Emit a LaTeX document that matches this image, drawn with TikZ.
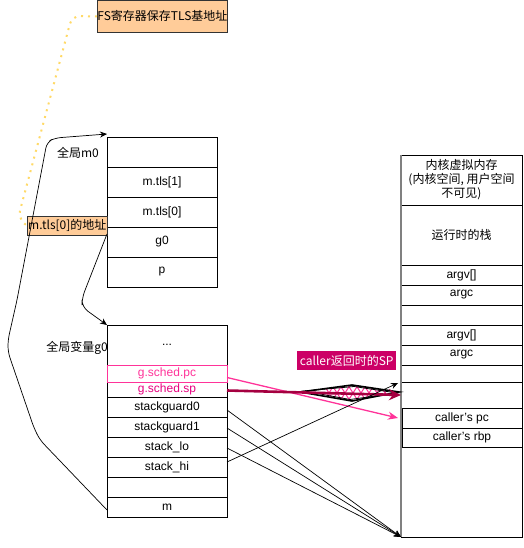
\documentclass[tikz,border=0pt]{standalone}
\usepackage{fontspec}
\setmainfont{Liberation Sans}
\newfontfamily\cjk{Noto Sans CJK SC}
\usetikzlibrary{arrows.meta}
\definecolor{peach}{HTML}{FFCC99}
\definecolor{pinkc}{HTML}{FF3399}
\definecolor{magc}{HTML}{E6007E}
\definecolor{darkmag}{HTML}{A50040}
\definecolor{labmag}{HTML}{CC0066}
\definecolor{dotyel}{HTML}{FFD966}
\begin{document}
\begin{tikzpicture}[x=1pt,y=-1pt,
  font=\fontsize{12}{14}\selectfont,
  cell/.style={draw=black,line width=0.8pt,anchor=north west,inner sep=0pt,outer sep=0pt},
  conn/.style={draw=black,line width=0.7pt},
  tip/.style={-{Stealth[length=7pt,width=6pt]}}]
\useasboundingbox (0,0) rectangle (523,548);
% top stack (m0)
\node[cell,minimum width=110pt,minimum height=30pt] (t0) at (107,137) {};
\node[cell,minimum width=110pt,minimum height=30pt] (t1) at (107,167) {m.tls[1]};
\node[cell,minimum width=110pt,minimum height=30pt] (t2) at (107,197) {m.tls[0]};
\node[cell,minimum width=110pt,minimum height=30pt] (t3) at (107,227) {g0};
\node[cell,minimum width=110pt,minimum height=30pt] (t4) at (107,257) {p};
% second stack (g0)
\node[cell,minimum width=120pt,minimum height=40pt] (s0) at (107,325) {...};
\node[cell,minimum width=120pt,minimum height=15pt,text=magc] (s2) at (107,382) {g.sched.sp};
\node[cell,minimum width=120pt,minimum height=20pt] (s3) at (107,397) {stackguard0};
\node[cell,minimum width=120pt,minimum height=20pt] (s4) at (107,417) {stackguard1};
\node[cell,minimum width=120pt,minimum height=20pt] (s5) at (107,437) {stack\_lo};
\node[cell,minimum width=120pt,minimum height=20pt] (s6) at (107,457) {stack\_hi};
\node[cell,minimum width=120pt,minimum height=20pt] (s7) at (107,477) {};
\node[cell,minimum width=120pt,minimum height=20pt] (s8) at (107,497) {m};
\node[cell,draw=pinkc,minimum width=120pt,minimum height=17pt,text=pinkc] (s1) at (107,365) {g.sched.pc};
% right stack
\node[cell,minimum width=121pt,minimum height=382pt] (r) at (401,155) {};
\node[cell,minimum width=121pt,minimum height=50pt,align=center,font=\cjk\fontsize{12}{14}\selectfont] (r0) at (401,155) {内核虚拟内存\\(内核空间, 用户空间\\不可见)};
\node[cell,minimum width=121pt,minimum height=60pt,font=\cjk\fontsize{12}{14}\selectfont] (r1) at (401,205) {运行时的栈};
\node[cell,minimum width=121pt,minimum height=20pt] (r2) at (401,265) {argv[]};
\node[cell,minimum width=121pt,minimum height=20pt] (r3) at (401,285) {argc};
\node[cell,minimum width=121pt,minimum height=20pt] (r4) at (401,305) {};
\node[cell,minimum width=121pt,minimum height=20pt] (r5) at (401,325) {argv[]};
\node[cell,minimum width=121pt,minimum height=20pt] (r6) at (401,345) {argc};
\node[cell,minimum width=121pt,minimum height=17pt] (r7) at (401,365) {};
\node[cell,minimum width=121pt,minimum height=26pt] (r8) at (401,382) {};
\node[cell,minimum width=120pt,minimum height=20pt] (r9) at (402,408) {caller's pc};
\node[cell,minimum width=120pt,minimum height=19pt] (r10) at (402,428) {caller's rbp};
\draw[gray,line width=2pt] (r.north west) -- (r.south west);
% labels
\node[draw=black!80,fill=peach,line width=0.8pt,minimum width=130pt,minimum height=32pt,inner sep=0pt,anchor=north west,font=\cjk\fontsize{12}{14}\selectfont] (fs) at (97,0) {FS寄存器保存TLS基地址};
\node[draw=black!80,fill=peach,line width=0.6pt,minimum width=80pt,minimum height=19pt,inner sep=0pt,anchor=north west,font=\cjk\fontsize{12}{14}\selectfont] (tl) at (27,216) {m.tls[0]的地址};
\node[font=\cjk\fontsize{12}{14}\selectfont] (lm0) at (78,153) {全局m0};
\node[font=\cjk\fontsize{12}{14}\selectfont] (lg0) at (77,348) {全局变量g0};
\node[fill=labmag,text=white,minimum width=99pt,minimum height=19pt,inner sep=0pt,anchor=north west,font=\cjk\fontsize{12}{14}\selectfont] (sp) at (297,351) {caller返回时的SP};
% dotted yellow
\draw[dotyel,line width=2pt,dash pattern=on 2pt off 5pt,rounded corners=8pt] (fs.west) -- (72,16) -- (18,218) -- (tl.west);
% m -> m0
\draw[conn,tip,rounded corners=6pt] ([yshift=-3pt]s8.west) -- (40,440) -- (34,428) -- (8,352) -- (8,340) -- (17,300) -- (47,142) -- (55,138) -- ([yshift=3pt]t0.north west);
% g0 -> g0 struct
\draw[conn,tip,rounded corners=7pt] ([yshift=8pt]t3.west) -- (82,298) -- (82,307) -- (s0.north west);
% sketchy diamond with pink hatch
\begin{scope}
\clip (300,392) -- (352,385) -- (399,392) -- (352,401) -- cycle;
\foreach \xx in {322,330,...,402} {
  \draw[pinkc,line width=1pt] (\xx,382) -- (\xx+14,404);
  \draw[pinkc,line width=1pt] (\xx+14,382) -- (\xx,404);
}
\end{scope}
\draw[black,line width=1.6pt] (300,392) -- (352,385) -- (399,392) -- (352,401) -- cycle;
\draw[black,line width=0.8pt] (304,391) -- (354,386.5) -- (397,393) -- (350,399.5) -- cycle;
% pc
\draw[pinkc,line width=1.3pt,-{Stealth[length=10pt,width=8pt]}] ([yshift=-4pt]s1.east) -- ([xshift=-4pt]r9.west);
% sp
\draw[darkmag,line width=2.6pt,-{Stealth[length=12pt,width=11pt]}] ([yshift=-1pt]s2.east) -- (r8.west);
% stack fields
\coordinate (rb) at (r.south west);
\draw[conn,tip] ([yshift=-3pt]s3.east) -- (rb);
\draw[conn,tip] ([yshift=-1pt]s4.east) -- (rb);
\draw[conn,tip] ([yshift=-1pt]s5.east) -- (rb);
\draw[conn,tip] ([yshift=5pt]s6.east) -- ([xshift=-3pt,yshift=-1pt]r8.north west);
\end{tikzpicture}
\end{document}
